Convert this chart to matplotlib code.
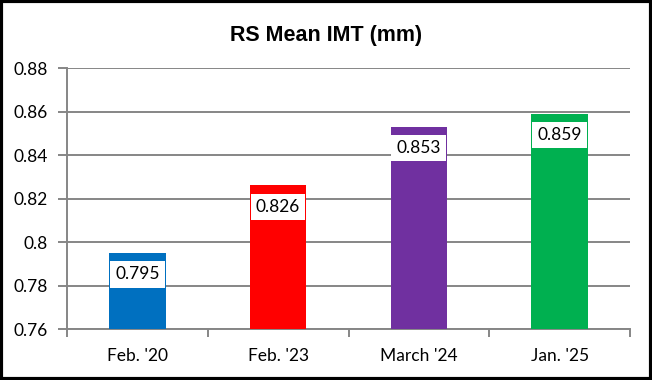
import matplotlib
matplotlib.use("Agg")
import matplotlib.pyplot as plt
from matplotlib.patches import Rectangle

categories = ["Feb. '20", "Feb. '23", "March '24", "Jan. '25"]
values = [0.795, 0.826, 0.853, 0.859]
labels = ["0.795", "0.826", "0.853", "0.859"]
colors = ["#0070C0", "#FF0000", "#7030A0", "#00B050"]
yticks = [0.76, 0.78, 0.80, 0.82, 0.84, 0.86, 0.88]
ytick_labels = ["0.76", "0.78", "0.8", "0.82", "0.84", "0.86", "0.88"]

fig = plt.figure(figsize=(6.52, 3.80), dpi=100)
ax = fig.add_axes([67/652, 51/380, 563/652, 261/380])

x = list(range(len(categories)))
ax.bar(x, [v - 0.76 for v in values], bottom=0.76, width=0.40, color=colors, zorder=3)

ax.set_xlim(-0.5, len(categories) - 0.5)
ax.set_ylim(0.76, 0.88)
ax.set_yticks(yticks)
ax.set_yticklabels(ytick_labels)
ax.set_xticks(x)
ax.set_xticklabels(categories)
ax.set_xticks([i - 0.5 for i in range(len(categories) + 1)], minor=True)

grid_c = "#868686"
ax.grid(axis="y", color=grid_c, linewidth=1.4, zorder=0)
for s in ["top", "right"]:
    ax.spines[s].set_visible(False)
for s in ["left", "bottom"]:
    ax.spines[s].set_color(grid_c)
    ax.spines[s].set_linewidth(1.4)

ax.tick_params(axis="y", length=6.5, width=1.4, color=grid_c, labelsize=12.5, pad=7)
ax.tick_params(axis="x", which="major", length=0, labelsize=12.5, pad=14)
ax.tick_params(axis="x", which="minor", length=6, width=1.4, color=grid_c)
for t in ax.get_xticklabels() + ax.get_yticklabels():
    t.set_fontfamily("Lato")
    t.set_color("#000000")

for xi, v, lab in zip(x, values, labels):
    ax.annotate(lab, xy=(xi, v), xytext=(0, -15.5), textcoords="offset points",
                ha="center", va="center", fontsize=12.5, family="Lato", zorder=5,
                bbox=dict(boxstyle="square,pad=0.3", fc="white", ec="none"))

fig.text(0.5, 1 - 35/380, "RS Mean IMT (mm)", ha="center", va="center",
         fontsize=15.5, fontweight="bold", family="Liberation Sans")

fig.patches.append(Rectangle((0.002, 0.003), 0.996, 0.994, transform=fig.transFigure,
                             fill=False, ec="black", lw=3, zorder=10))

fig.savefig("out.png", dpi=100)
